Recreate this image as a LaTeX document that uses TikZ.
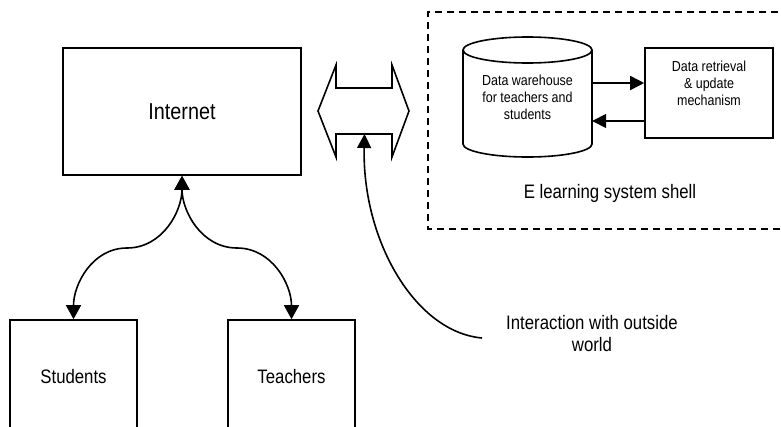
\documentclass[tikz,border=0pt]{standalone}
\usepackage{fontspec}
\setmainfont{Liberation Sans}[FakeStretch=0.86]
\usetikzlibrary{arrows.meta}
\tikzset{
  box/.style={draw, line width=1.6pt, rectangle, inner sep=0pt},
  arr/.style={line width=1.6pt, -{Triangle[length=14pt,width=14pt]}},
  darr/.style={line width=1.6pt, {Triangle[length=14pt,width=15pt]}-{Triangle[length=14pt,width=15pt]}},
  bigtxt/.style={font=\fontsize{19.5}{22}\selectfont, align=center, inner sep=0pt},
  smalltxt/.style={font=\fontsize{14.5}{17}\selectfont, align=center, inner sep=0pt},
}
\begin{document}
\begin{tikzpicture}[x=1pt,y=-1pt]
\useasboundingbox (0,0) rectangle (781,426);
\clip (0,0) rectangle (781,426);
% dashed shell
\draw[line width=1.5pt, dash pattern=on 7pt off 5pt] (790,12) -- (428,12) -- (428,229) -- (790,229);
\node[bigtxt] (shell) at (610,193) {E learning system shell};
% Internet
\node[box, minimum width=238pt, minimum height=127pt, font=\fontsize{23}{26}\selectfont] (inet) at (182,111.5) {\raisebox{-5.5pt}{Internet}};
% Students / Teachers
\node[box, minimum width=127pt, minimum height=114pt, font=\fontsize{19.5}{22}\selectfont] (stud) at (73.5,377) {Students};
\node[box, minimum width=127pt, minimum height=114pt, font=\fontsize{19.5}{22}\selectfont] (teach) at (291.5,377) {Teachers};
\draw[darr] (inet.south) to[out=-90,in=0] (127,248) to[out=180,in=90] (stud.north);
\draw[darr] (inet.south) to[out=-90,in=180] (237,248) to[out=0,in=90] (teach.north);
% double arrow (interaction gateway)
\draw[line width=1.6pt, line join=miter] (318,111) -- (336,65) -- (336,88) -- (392,88) -- (392,65) -- (409,111) -- (392,157) -- (392,134) -- (336,134) -- (336,157) -- cycle;
\coordinate (io) at (364.5,134);
\coordinate (iw) at (482,338);
\draw[arr] (iw) .. controls (415,332) and (362,240) .. (io);
\node[bigtxt] (itxt) at (592,334) {Interaction with outside\\world};
% cylinder
\node[smalltxt, minimum width=129pt, minimum height=120pt] (dw) at (527.5,97) {Data warehouse\\for teachers and\\students};
\draw[line width=1.6pt] (527.5,50) ellipse [x radius=64.5pt, y radius=13pt];
\draw[line width=1.6pt] (463,50) -- (463,144) arc[start angle=180, end angle=360, x radius=64.5pt, y radius=13pt] -- (592,50);
% data retrieval box
\node[box, minimum width=128pt, minimum height=90pt] (dr) at (709,93) {};
\node[smalltxt] (drt) at (709,83) {Data retrieval\\\& update\\mechanism};
\draw[arr] (dw.east |- 0,83) -- (dr.west |- 0,83);
\draw[arr] (dr.west |- 0,121) -- (dw.east |- 0,121);
\end{tikzpicture}
\end{document}
